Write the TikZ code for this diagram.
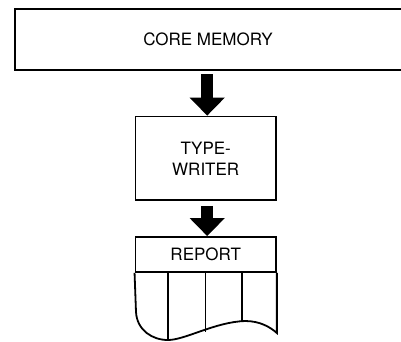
\documentclass[tikz,border=0pt]{standalone}
\usepackage{fontspec}
\setmainfont{TeX Gyre Heros}
\usetikzlibrary{arrows.meta,positioning}

\begin{document}
\begin{tikzpicture}[x=1pt,y=-1pt,
  font=\fontsize{17}{21}\selectfont,
  box/.style={draw,line width=1.8pt,minimum width=140.5pt,inner sep=0pt},
  bigarrow/.style={line width=12pt,-{Triangle[width=34pt,length=18pt]}}]

\useasboundingbox (0,0) rectangle (401,341);

% core memory, open to the right
\node (core) [minimum height=61pt,inner sep=0pt] at (208,39.5) {CORE MEMORY};
\draw[line width=2pt] (410,9) -- (15,9) -- (15,70) -- (410,70);

\node (tw) [box,minimum height=83.5pt,align=center] at (205.7,158.3) {TYPE-\\WRITER};

\node (report) [box,minimum height=35pt] at (205.7,254.5) {REPORT};
\draw[line width=1.8pt] (report.south west) -- (136,312)
  .. controls (137,330) and (152,340) .. (168,340)
  .. controls (185,340) and (215,322) .. (245,321)
  .. controls (260,321) and (270,327) .. (report.south east |- 0,333)
  -- (report.south east);
\draw[line width=1.8pt] (168,272) -- (168,340);
\draw[line width=1.8pt] (205.5,272) -- (205.5,331.5);
\draw[line width=1.8pt] (242,272) -- (242,321.5);

\draw[bigarrow] ([xshift=1.5pt,yshift=-4pt]core.south -| tw.north) -- ([xshift=1.5pt]tw.north);
\draw[bigarrow] ([xshift=1.5pt,yshift=-5pt]tw.south) -- ([xshift=1.5pt]report.north);

\end{tikzpicture}
\end{document}
